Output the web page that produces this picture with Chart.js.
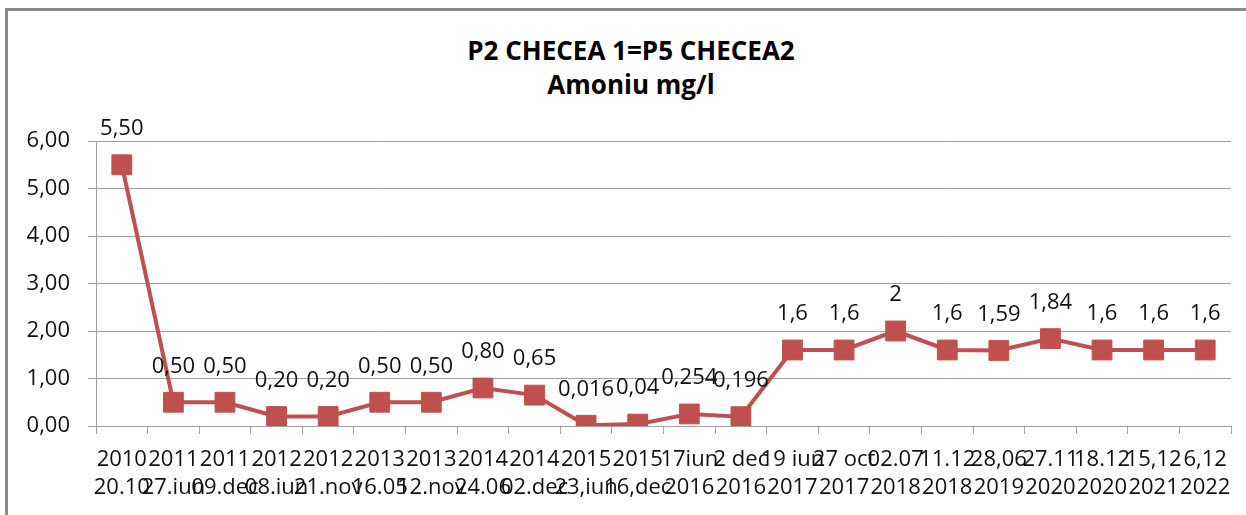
<!DOCTYPE html>
<html>
<head>
<meta charset="utf-8">
<script src="https://cdn.jsdelivr.net/npm/chart.js@4.4.1/dist/chart.umd.min.js"></script>
<style>
  html, body { margin: 0; padding: 0; background: #fff; }
  #wrap { position: relative; width: 1246px; height: 515px; overflow: hidden; }
  #frame { position: absolute; left: 5px; top: 8px; width: 1400px; height: 600px;
           border-top: 3px solid #8a8a8a; border-left: 3px solid #8a8a8a; }
  #title { position: absolute; left: 0; top: 33px; width: 1262px; text-align: center;
           font: bold 26px "Open Sans", sans-serif; line-height: 34px; color: #000; }
  canvas { position: absolute; left: 0; top: 0; }
</style>
</head>
<body>
<div id="wrap">
  <div id="frame"></div>
  <div id="title">P2 CHECEA 1=P5 CHECEA2<br>Amoniu mg/l</div>
  <canvas id="chart" width="1246" height="515"></canvas>
</div>
<script>
// sampling dates, two lines each (as wrapped in the original sheet)
const categories = [
  ["2010", "20.10"], ["2011", "27.iun"], ["2011", "09.dec"], ["2012", "08.iun"],
  ["2012", "21.nov"], ["2013", "16.05"], ["2013", "12.nov"], ["2014", "24.06"],
  ["2014", "02.dec"], ["2015", "23,iun"], ["2015", "16,dec"], ["17iun", "2016"],
  ["2 dec", "2016"], ["19 iun", "2017"], ["27 oct", "2017"], ["02.07", "2018"],
  ["11.12", "2018"], ["28,06", "2019"], ["27.11", "2020"], ["18.12", "2020"],
  ["15,12", "2021"], ["6,12", "2022"]
];
const amoniu = [5.5, 0.5, 0.5, 0.2, 0.2, 0.5, 0.5, 0.8, 0.65, 0.016, 0.04,
  0.254, 0.196, 1.6, 1.6, 2, 1.6, 1.59, 1.84, 1.6, 1.6, 1.6];
const valueLabels = ["5,50", "0,50", "0,50", "0,20", "0,20", "0,50", "0,50", "0,80", "0,65",
  "0,016", "0,04", "0,254", "0,196", "1,6", "1,6", "2", "1,6", "1,59", "1,84", "1,6", "1,6", "1,6"];
const yMin = 0, yMax = 6, yStep = 1;

const red = "#C0504D";
const gridGray = "#a0a0a0";
const textFont = { family: "'Open Sans', sans-serif", size: 22 };

// value labels above each marker
const pointLabels = {
  id: "pointLabels",
  afterDatasetsDraw(chart) {
    const ctx = chart.ctx;
    const meta = chart.getDatasetMeta(0);
    ctx.save();
    ctx.font = "22px 'Open Sans', sans-serif";
    ctx.fillStyle = "#111";
    ctx.textAlign = "center";
    ctx.textBaseline = "middle";
    meta.data.forEach((pt, i) => {
      ctx.fillText(valueLabels[i], pt.x, pt.y - 36);
    });
    ctx.restore();
  }
};

new Chart(document.getElementById("chart").getContext("2d"), {
  type: "line",
  data: {
    labels: categories,
    datasets: [{
      data: amoniu,
      borderColor: red,
      backgroundColor: red,
      borderWidth: 4,
      pointStyle: "rect",
      pointRadius: 14,
      pointHoverRadius: 14,
      pointBorderWidth: 1,
      pointBorderColor: red,
      pointBackgroundColor: red,
      tension: 0
    }]
  },
  options: {
    responsive: false,
    animation: false,
    layout: { padding: { top: 141, right: 13, left: 0, bottom: 0 } },
    plugins: {
      legend: { display: false },
      tooltip: { enabled: false }
    },
    scales: {
      x: {
        offset: true,
        grid: {
          offset: true,
          drawOnChartArea: false,
          drawTicks: true,
          tickLength: 8,
          color: gridGray
        },
        border: { color: gridGray, width: 1 },
        ticks: {
          autoSkip: false,
          maxRotation: 0,
          minRotation: 0,
          padding: 12,
          color: "#111",
          font: { ...textFont, lineHeight: 1.27 }
        },
        afterFit(scale) { scale.height = 89; }
      },
      y: {
        min: yMin,
        max: yMax,
        grid: { color: gridGray, lineWidth: 1, tickLength: 8 },
        border: { color: gridGray, width: 1 },
        ticks: {
          stepSize: yStep,
          padding: 18,
          color: "#111",
          font: textFont,
          callback: (v) => v.toFixed(2).replace(".", ",")
        },
        afterFit(scale) { scale.width = 96; }
      }
    }
  },
  plugins: [pointLabels]
});
</script>
</body>
</html>
